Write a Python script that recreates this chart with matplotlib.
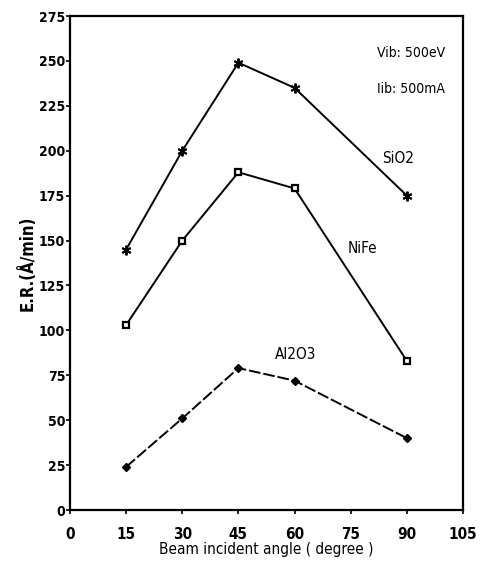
import matplotlib
matplotlib.use("Agg")
import matplotlib.pyplot as plt

angles = [15, 30, 45, 60, 90]
sio2 = [145, 200, 249, 235, 175]
nife = [103, 150, 188, 179, 83]
al2o3 = [24, 51, 79, 72, 40]
xticks = [0, 15, 30, 45, 60, 75, 90, 105]
yticks = list(range(0, 276, 25))

plt.rcParams['font.family'] = ['DejaVu Sans']
plt.rcParams['font.stretch'] = 'condensed'

fig = plt.figure(figsize=(4.81, 5.79), dpi=100)
ax = fig.add_axes([70/481, 1 - 510/579, (463-70)/481, (510-16)/579])

ax.plot(angles, sio2, color='black', lw=1.4, marker=(6, 2, 0), ms=7, mew=1.4)
ax.plot(angles, nife, color='black', lw=1.4, marker='s', ms=5, mfc='white', mew=1.6)
ax.plot(angles, al2o3, color='black', lw=1.4, ls=(0, (6, 1.5)), marker='D', ms=4.5, mew=1)

ax.set_xlim(0, 105)
ax.set_ylim(0, 275)
ax.set_xticks(xticks)
ax.set_yticks(yticks)
for s in ax.spines.values():
    s.set_linewidth(1.6)
ax.tick_params(direction='out', length=3, width=1.2, labelsize=10)
ax.tick_params(axis='x', pad=9, labelsize=11)
ax.tick_params(axis='y', pad=0.5)
for lab in ax.get_xticklabels() + ax.get_yticklabels():
    lab.set_fontweight('bold')

ax.set_xlabel('Beam incident angle ( degree )', fontsize=11)
ax.xaxis.set_label_coords(0.5, -0.065)
ax.set_ylabel('E.R.(Å/min)', fontsize=12, fontweight='bold')
ax.yaxis.set_label_coords(-0.085, 0.5)

ax.text(82, 252, 'Vib: 500eV', fontsize=10)
ax.text(82, 232, 'Iib: 500mA', fontsize=10)
ax.text(83.4, 193, 'SiO2', fontsize=11)
ax.text(74.3, 143, 'NiFe', fontsize=11)
ax.text(54.8, 84, 'Al2O3', fontsize=11)

fig.savefig('out.png', dpi=100)
